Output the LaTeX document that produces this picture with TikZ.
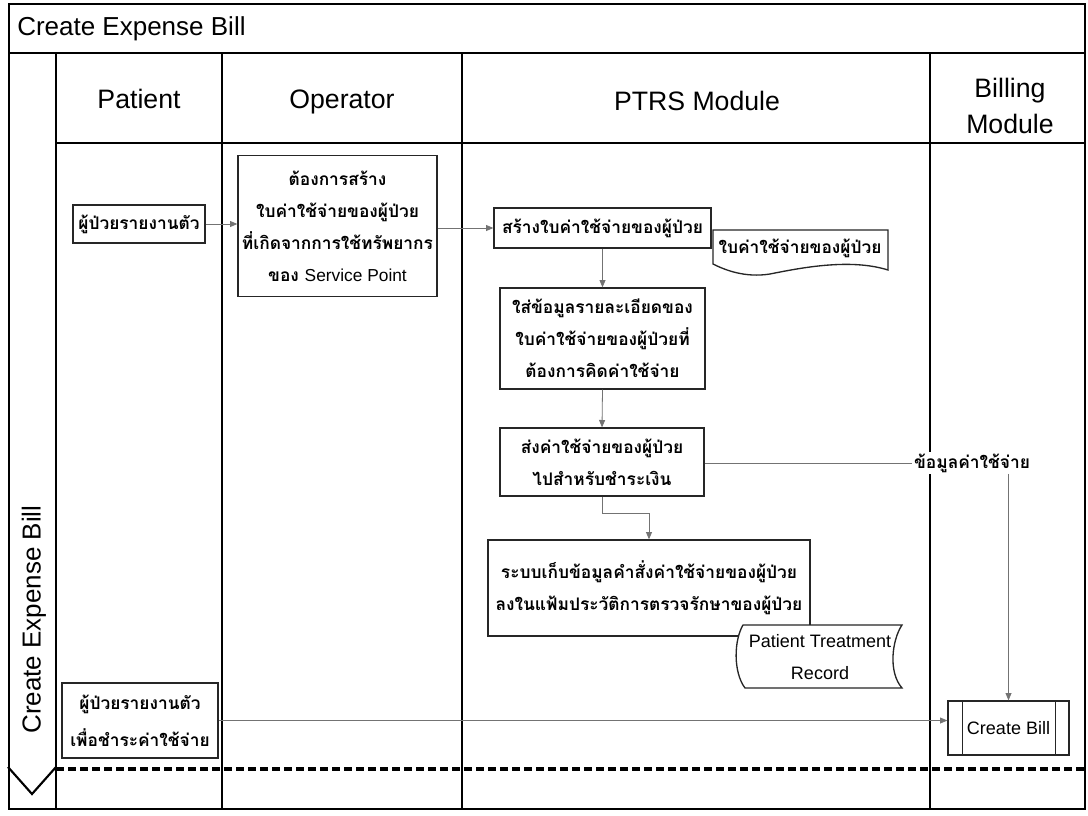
\documentclass[tikz,border=0pt]{standalone}
\usepackage{fontspec}
\setmainfont{Liberation Sans}
\newfontfamily\thai[Script=Thai]{Loma}
\usetikzlibrary{arrows.meta}
\begin{document}
\begin{tikzpicture}[x=0.75pt,y=-0.75pt,
  frameline/.style={line width=0.9pt,draw=black},
  thaifont/.style={font=\thai\bfseries\fontsize{13}{24}\selectfont},
  box/.style={draw=black!85,line width=1pt,fill=white,inner sep=0pt,align=center,thaifont},
  conn/.style={draw=black!55,line width=0.6pt,-{Triangle[length=5.5pt,width=4.5pt]}},
  plainconn/.style={draw=black!55,line width=0.6pt},
  hdr/.style={font=\fontsize{20}{27}\selectfont,align=center,inner sep=0pt},
  doctext/.style={inner sep=0pt,align=center}]
\useasboundingbox (0,0) rectangle (1088,815);
\fill[white] (0,0) rectangle (1088,815);
% frame and lanes
\draw[frameline] (9,4) rectangle (1085,809);
\draw[frameline] (9,53) -- (1085,53);
\draw[frameline] (56,143) -- (1085,143);
\foreach \x in {56,222,462,930} \draw[frameline] (\x,53) -- (\x,809);
\node[anchor=west,inner sep=0pt,font=\fontsize{19.5}{24}\selectfont] (title) at (17,29) {Create Expense Bill};
\node[hdr,anchor=base] (hpat) at (139,108) {Patient};
\node[hdr,anchor=base] (hop) at (342,108) {Operator};
\node[hdr,anchor=base] (hptrs) at (697,110) {PTRS Module};
\node[hdr] (hbill) at (1010,106) {Billing\\Module};
\node[rotate=90,anchor=west,inner sep=0pt,font=\fontsize{19.5}{24}\selectfont] (side) at (34,734) {Create Expense Bill};
\draw[line width=1.6pt] (8,767) -- (32,794) -- (56,767);
\draw[line width=2.5pt,dash pattern=on 6pt off 3pt] (56,769) -- (1085,769);
% nodes
\node[box,minimum width=132*0.75pt,minimum height=38*0.75pt] (A) at (139,224) {ผู้ป่วยรายงานตัว};
\node[box,minimum width=199*0.75pt,minimum height=141*0.75pt] (B) at (337.5,226) {ต้องการสร้าง\\ใบค่าใช้จ่ายของผู้ป่วย\\ที่เกิดจากการใช้ทรัพยากร\\ของ {\rmfamily\mdseries Service Point}};
\node[box,minimum width=217*0.75pt,minimum height=40*0.75pt] (C) at (602.5,228) {สร้างใบค่าใช้จ่ายของผู้ป่วย};
% document D
\draw[draw=black!85,line width=1pt,fill=white] (713,230) -- (888,230) -- (888,270)
  .. controls (850,258) and (800,268) .. (770,274) .. controls (745,278) and (725,270) .. (713,264) -- cycle;
\node[doctext,thaifont] (D) at (800,248) {ใบค่าใช้จ่ายของผู้ป่วย};
\node[box,minimum width=205*0.75pt,minimum height=101*0.75pt] (E) at (602.5,338.5) {ใส่ข้อมูลรายละเอียดของ\\ใบค่าใช้จ่ายของผู้ป่วยที่\\ต้องการคิดค่าใช้จ่าย};
\node[box,minimum width=204*0.75pt,minimum height=68*0.75pt] (F) at (602,462) {ส่งค่าใช้จ่ายของผู้ป่วย\\ไปสำหรับชำระเงิน};
\node[box,minimum width=322*0.75pt,minimum height=96*0.75pt] (G) at (649,588) {ระบบเก็บข้อมูลคำสั่งค่าใช้จ่ายของผู้ป่วย\\ลงในแฟ้มประวัติการตรวจรักษาของผู้ป่วย};
% stored data H
\draw[draw=black!85,line width=1pt,fill=white] (743,625) -- (902,625)
  .. controls (892,640) and (888,672) .. (902,688) -- (745,688)
  .. controls (733,672) and (734,640) .. (743,625) -- cycle;
\node[doctext,font=\fontsize{13.5}{24}\selectfont] (H) at (820,657) {Patient Treatment\\Record};
\node[box,minimum width=156*0.75pt,minimum height=75*0.75pt,font=\thai\bfseries\fontsize{13}{28}\selectfont] (I) at (140,720.5) {ผู้ป่วยรายงานตัว\\เพื่อชำระค่าใช้จ่าย};
\node[box,minimum width=121*0.75pt,minimum height=54*0.75pt,font=\fontsize{13.5}{16}\selectfont] (J) at (1008.5,728) {Create Bill};
\draw[draw=black!85,line width=1pt] ([xshift=15*0.75pt]J.north west) -- ([xshift=15*0.75pt]J.south west);
\draw[draw=black!85,line width=1pt] ([xshift=-14*0.75pt]J.north east) -- ([xshift=-14*0.75pt]J.south east);
\node[fill=white,inner sep=1pt,thaifont] (L) at (972,463) {ข้อมูลค่าใช้จ่าย};
\coordinate (fgbend) at (649,513);
% connectors
\draw[conn] (A.east) -- (A.east -| B.west);
\draw[conn] (B.east |- C.west) -- (C.west);
\draw[conn] (C.south) -- (E.north);
\draw[conn] (E.south) -- (F.north);
\draw[conn] (F.south) |- (fgbend) -- (G.north);
\draw[plainconn] (F.east |- L.west) -- (L.west);
\draw[conn] (L.south -| J.north) -- (J.north);
\draw[conn] (I.east) -- (I.east -| J.west);
\end{tikzpicture}
\end{document}
